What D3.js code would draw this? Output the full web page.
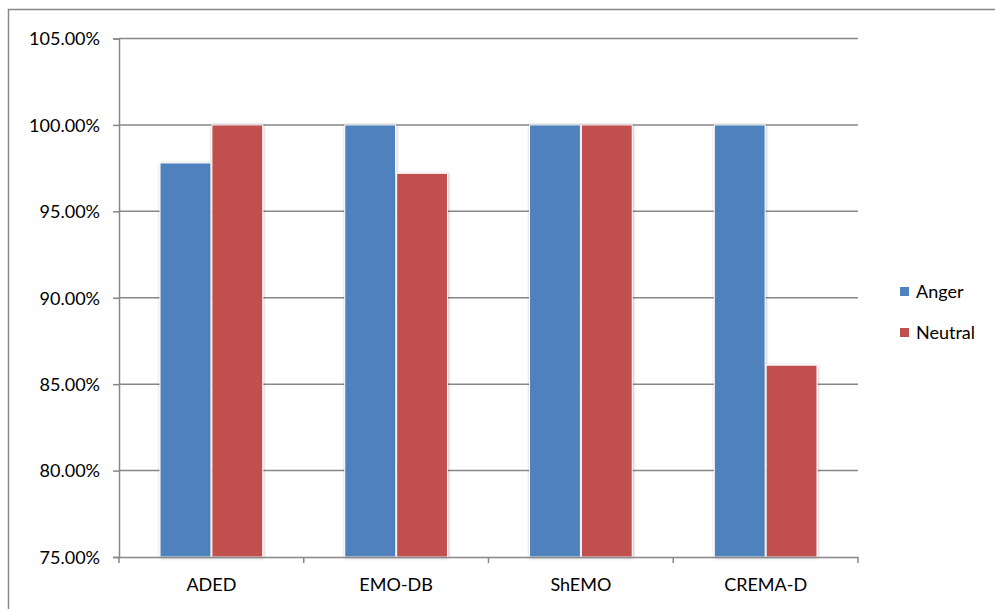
<!DOCTYPE html>
<html>
<head>
<meta charset="utf-8">
<script src="https://cdn.jsdelivr.net/npm/d3@7"></script>
<style>
  html, body { margin: 0; padding: 0; background: #fff; }
  svg { display: block; font-family: Lato, "Open Sans", sans-serif; }
</style>
</head>
<body>
<svg id="chart" width="995" height="609"></svg>
<script>
// Recognition accuracy per dataset and emotion
const categories = ["ADED", "EMO-DB", "ShEMO", "CREMA-D"];
const seriesNames = ["Anger", "Neutral"];
const angerValues = [97.8, 100, 100, 100];
const neutralValues = [100, 97.2, 100, 86.1];
const yTicks = [75, 80, 85, 90, 95, 100, 105];
const colors = ["#4F81BD", "#C0504D"];

const rows = categories.map((c, i) => ({
  category: c,
  values: [
    { series: seriesNames[0], value: angerValues[i] },
    { series: seriesNames[1], value: neutralValues[i] }
  ]
}));

const svg = d3.select("#chart");
const plot = { left: 119, right: 858, top: 38.5, bottom: 557 };
const gridColor = "#878787";
const fontSize = "18px";

// Drop shadow used on the bars
const defs = svg.append("defs");
const f = defs.append("filter").attr("id", "barShadow")
  .attr("x", "-20%").attr("y", "-10%").attr("width", "140%").attr("height", "120%");
f.append("feDropShadow").attr("dx", 0.5).attr("dy", 0.5)
  .attr("stdDeviation", 1.8).attr("flood-color", "#000").attr("flood-opacity", 0.3);

// Outer chart border
svg.append("rect")
  .attr("x", 8.5).attr("y", 9.5).attr("width", 1000).attr("height", 700)
  .attr("fill", "none").attr("stroke", gridColor).attr("stroke-width", 1.5);

const y = d3.scaleLinear().domain([75, 105]).range([plot.bottom, plot.top]);
const x0 = d3.scaleBand().domain(categories).range([plot.left, plot.right]).padding(0);
const bw = x0.bandwidth();
const x1 = d3.scaleBand().domain(seriesNames)
  .range([bw * 0.222, bw * 0.778]).paddingInner(0.02).paddingOuter(0);
const color = d3.scaleOrdinal().domain(seriesNames).range(colors);

// Horizontal gridlines
svg.append("g").selectAll("line").data(yTicks.filter(t => t > 75)).join("line")
  .attr("x1", plot.left).attr("x2", plot.right)
  .attr("y1", d => y(d)).attr("y2", d => y(d))
  .attr("stroke", gridColor).attr("stroke-width", 1.5);

// Y axis
const yAxis = svg.append("g").attr("transform", `translate(${plot.left},0)`)
  .call(d3.axisLeft(y).tickValues(yTicks).tickSize(6).tickPadding(13)
    .tickFormat(d => d3.format(".2f")(d) + "%"));
yAxis.select(".domain").attr("stroke", gridColor).attr("stroke-width", 1.5);
yAxis.selectAll(".tick line").attr("stroke", gridColor).attr("stroke-width", 1.5);
yAxis.selectAll(".tick text").attr("fill", "#000")
  .style("font-size", fontSize).style("font-family", "Lato, sans-serif")
  .attr("dy", "0.35em");

// Bars
const groups = svg.append("g").selectAll("g").data(rows).join("g")
  .attr("transform", d => `translate(${x0(d.category)},0)`);
groups.selectAll("rect").data(d => d.values).join("rect")
  .attr("x", d => x1(d.series))
  .attr("width", x1.bandwidth())
  .attr("y", d => y(d.value))
  .attr("height", d => y(75) - y(d.value))
  .attr("fill", d => color(d.series))
  .attr("stroke", "#fff").attr("stroke-width", 1)
  .attr("filter", "url(#barShadow)");

// X axis
const xAxis = svg.append("g").attr("transform", `translate(0,${plot.bottom})`)
  .call(d3.axisBottom(x0).tickSize(0).tickPadding(21));
xAxis.select(".domain").attr("stroke", gridColor).attr("stroke-width", 1.5);
xAxis.selectAll(".tick text").attr("fill", "#000")
  .style("font-size", fontSize).style("font-family", "Lato, sans-serif");
// Category boundary tick marks
const boundaries = categories.map(c => x0(c)).concat([plot.right]);
xAxis.append("g").selectAll("line").data(boundaries).join("line")
  .attr("x1", d => d).attr("x2", d => d).attr("y1", 0).attr("y2", 6)
  .attr("stroke", gridColor).attr("stroke-width", 1.5);

// Legend
const legend = svg.append("g").selectAll("g").data(seriesNames).join("g")
  .attr("transform", (d, i) => `translate(900,${287 + i * 41})`);
legend.append("rect").attr("width", 9).attr("height", 9)
  .attr("fill", d => color(d));
legend.append("text").attr("x", 16).attr("y", 10.5)
  .text(d => d).style("font-size", fontSize).attr("fill", "#000");
</script>
</body>
</html>
